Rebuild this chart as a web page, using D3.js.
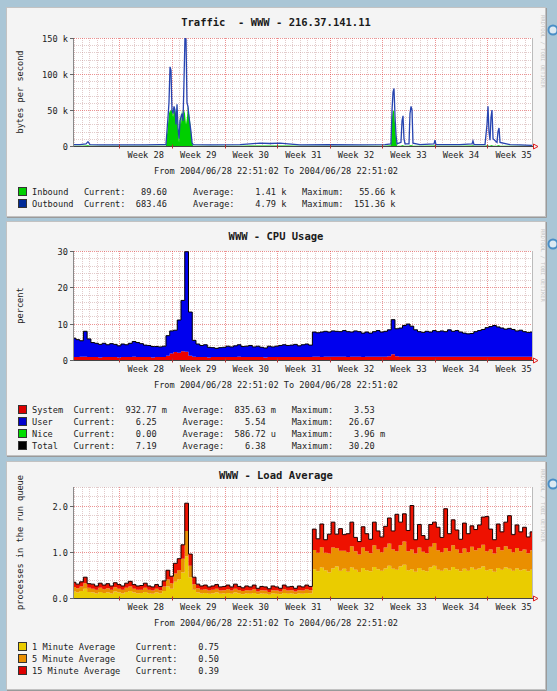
<!DOCTYPE html>
<html>
<head>
<meta charset="utf-8">
<script src="https://d3js.org/d3.v7.min.js"></script>
<style>
body { margin: 0; background: #aac6d6; }
svg { display: block; }
text { white-space: pre; }
</style>
</head>
<body>
<script>
// time span shared by the three graphs
var startTime = new Date(2004, 5, 28, 22, 51, 2);
var endTime = new Date(2004, 7, 28, 22, 51, 2);
var weekNumbers = [28, 29, 30, 31, 32, 33, 34, 35];
var fromText = 'From 2004/06/28 22:51:02 To 2004/06/28 22:51:02';

// traffic, days after start / kbytes per second
var trafficDays = [0, 0.8, 1.6, 1.86, 2.13, 3.46, 5.46, 7.46, 9.46, 11.45, 12.25, 12.52, 12.65, 12.79, 12.92,
  13.05, 13.19, 13.32, 13.45, 13.59, 13.72, 13.85, 13.99, 14.12, 14.25, 14.38, 14.52, 14.65, 14.78, 14.92,
  15.05, 15.18, 15.32, 15.45, 15.58, 15.72, 15.85, 18.11, 22.11, 23.44, 24.77, 26.1, 27.44, 28.5, 30.1,
  34.1, 38.09, 41.42, 42.22, 42.36, 42.49, 42.62, 42.76, 42.89, 43.02, 43.55, 43.69, 43.82, 43.95, 44.09,
  44.62, 44.75, 44.89, 45.02, 45.15, 46.08, 47.95, 48.08, 48.21, 51.41, 53.01, 53.14, 53.28, 54.74, 55.01,
  55.14, 55.27, 55.41, 55.54, 55.67, 55.81, 56.34, 56.47, 56.61, 56.74, 58.07, 59.4, 61.0];
var inboundK = [0.5, 0.5, 0.6, 1, 0.5, 0.4, 0.4, 0.4, 0.4, 0.5, 0.5, 30, 45, 50, 48,
  52, 40, 55, 50, 35, 55, 20, 5, 45, 30, 50, 40, 50, 45, 30,
  40, 55.7, 45, 35, 20, 5, 0.5, 0.4, 0.5, 0.6, 0.8, 0.8, 0.7, 0.6, 0.4,
  0.5, 0.4, 0.5, 1, 40, 50, 48, 30, 10, 0.5, 0.5, 1, 1, 0.5, 0.5,
  0.5, 1, 1, 1, 0.5, 0.5, 0.6, 1, 0.5, 0.5, 0.6, 1, 0.5, 0.5, 1,
  1, 0.5, 0.5, 1, 1, 0.5, 0.5, 1, 1, 0.5, 0.5, 0.4, 0.3];
var outboundK = [2, 2, 3, 6, 2, 1.5, 1.5, 1.5, 1.5, 2, 2, 40, 60, 110, 105,
  50, 45, 55, 50, 30, 58, 25, 10, 35, 40, 45, 35, 90, 151, 148,
  60, 55, 40, 30, 20, 5, 2, 1.5, 2, 3, 4, 3.5, 4, 3, 1.5,
  2, 1.5, 2, 3, 50, 75, 80, 40, 15, 3, 5, 35, 42, 10, 3,
  3, 45, 55, 50, 4, 2, 3, 8, 2, 2, 3, 7, 2, 2, 30,
  55, 20, 8, 40, 50, 10, 5, 20, 25, 5, 2, 1.5, 1];
var inboundStats = ['89.60', '', '1.41', 'k', '55.66', 'k'];
var outboundStats = ['683.46', '', '4.79', 'k', '151.36', 'k'];

// cpu, one sample every half day
var sampleStep = 0.5;
var cpuSystem = [0.8, 0.8, 0.9, 0.9, 0.8, 0.8, 0.8, 0.7, 0.8, 0.8,
  0.8, 0.8, 0.7, 0.8, 0.8, 0.8, 0.9, 0.8, 0.8, 0.8,
  0.8, 0.7, 0.8, 0.8, 0.8, 1.2, 1.8, 2.2, 2.0, 2.4,
  2.3, 1.2, 0.9, 0.8, 0.8, 0.8, 0.7, 0.8, 0.8, 0.8,
  0.8, 0.8, 0.8, 0.8, 0.9, 0.8, 0.8, 0.8, 0.8, 0.8,
  0.8, 0.7, 0.8, 0.8, 0.8, 0.8, 0.8, 0.8, 0.8, 0.8,
  0.8, 0.8, 0.8, 0.8, 0.9, 0.9, 0.8, 0.9, 0.9, 0.9,
  0.9, 0.9, 0.9, 0.8, 0.9, 0.9, 0.9, 0.8, 0.9, 0.9,
  0.9, 0.9, 0.9, 0.9, 1.0, 1.6, 1.0, 0.9, 0.9, 0.9,
  0.9, 0.9, 0.9, 0.9, 0.9, 0.9, 0.9, 0.9, 0.9, 0.9,
  0.9, 0.9, 0.9, 0.9, 0.9, 0.9, 0.9, 0.9, 0.9, 0.9,
  0.9, 0.9, 0.9, 0.9, 0.9, 0.9, 0.9, 0.9, 0.9, 0.9,
  0.9, 0.9, 0.9];
var cpuUser = [5.2, 4.8, 4.4, 7.0, 5.0, 4.0, 3.8, 3.6, 3.8, 3.4,
  3.7, 3.5, 3.2, 3.6, 3.4, 3.8, 4.2, 4.0, 3.7, 3.3,
  3.2, 3.0, 2.9, 2.8, 3.0, 5.5, 6.2, 6.0, 9.0, 14.0,
  27.5, 12.0, 4.5, 3.6, 3.2, 3.4, 2.8, 2.6, 2.4, 2.6,
  2.7, 3.0, 2.8, 3.1, 3.3, 2.9, 3.0, 3.2, 2.8, 3.0,
  2.7, 2.6, 3.0, 2.8, 3.0, 3.2, 3.4, 3.2, 3.3, 3.5,
  3.1, 3.4, 3.6, 3.3, 6.8, 6.6, 6.9, 7.0, 6.8, 7.1,
  7.0, 6.9, 7.2, 7.0, 6.8, 7.1, 6.9, 6.6, 6.8, 6.5,
  6.9, 7.2, 6.8, 7.0, 7.3, 9.5, 7.6, 7.9, 8.6, 9.0,
  8.4, 7.4, 6.9, 6.7, 7.0, 6.8, 7.2, 6.9, 7.1, 6.9,
  7.4, 7.0, 7.2, 6.8, 6.5, 6.3, 6.4, 6.9, 7.2, 7.5,
  8.0, 8.3, 8.6, 8.2, 7.9, 7.6, 7.8, 7.5, 7.1, 7.3,
  6.9, 6.7, 6.8];
var systemStats = ['932.77', 'm', '835.63', 'm', '3.53', ''];
var userStats = ['6.25', '', '5.54', '', '26.67', ''];
var niceStats = ['0.00', '', '586.72', 'u', '3.96', 'm'];
var totalStats = ['7.19', '', '6.38', '', '30.20', ''];

// load average, stacked parts, one sample every half day
var load1 = [0.14, 0.12, 0.15, 0.2, 0.13, 0.12, 0.1, 0.13, 0.11, 0.12,
  0.1, 0.14, 0.12, 0.1, 0.13, 0.15, 0.12, 0.1, 0.11, 0.13,
  0.1, 0.09, 0.12, 0.1, 0.15, 0.25, 0.2, 0.35, 0.4, 0.55,
  0.9, 0.45, 0.18, 0.12, 0.1, 0.11, 0.09, 0.1, 0.12, 0.09,
  0.1, 0.11, 0.09, 0.12, 0.1, 0.08, 0.1, 0.09, 0.11, 0.08,
  0.1, 0.09, 0.07, 0.1, 0.09, 0.08, 0.11, 0.09, 0.1, 0.08,
  0.1, 0.09, 0.11, 0.1,
  0.62, 0.58, 0.66, 0.6, 0.55, 0.64, 0.68, 0.59, 0.63, 0.57,
  0.66, 0.61, 0.56, 0.65, 0.6, 0.58, 0.67, 0.62, 0.59, 0.64,
  0.7, 0.63, 0.61, 0.68, 0.72, 0.6, 0.62, 0.57, 0.65, 0.6,
  0.58, 0.66, 0.7, 0.61, 0.59, 0.64, 0.6, 0.67, 0.62, 0.58,
  0.63, 0.59, 0.66, 0.61, 0.64, 0.68, 0.6, 0.62, 0.57, 0.65,
  0.61, 0.66, 0.63, 0.59, 0.64, 0.6, 0.62, 0.58, 0.61];
var load5 = [0.1, 0.09, 0.1, 0.12, 0.09, 0.08, 0.08, 0.09, 0.08, 0.09,
  0.08, 0.09, 0.08, 0.08, 0.09, 0.1, 0.08, 0.08, 0.07, 0.09,
  0.08, 0.07, 0.08, 0.07, 0.1, 0.15, 0.12, 0.18, 0.2, 0.3,
  0.55, 0.25, 0.12, 0.09, 0.08, 0.08, 0.07, 0.08, 0.08, 0.07,
  0.07, 0.08, 0.07, 0.08, 0.07, 0.07, 0.07, 0.07, 0.08, 0.06,
  0.07, 0.07, 0.06, 0.07, 0.07, 0.06, 0.08, 0.07, 0.07, 0.06,
  0.07, 0.07, 0.08, 0.07,
  0.42, 0.4, 0.44, 0.38, 0.41, 0.45, 0.4, 0.43, 0.39, 0.42,
  0.46, 0.4, 0.38, 0.44, 0.41, 0.39, 0.47, 0.43, 0.4, 0.45,
  0.48, 0.42, 0.4, 0.46, 0.5, 0.41, 0.43, 0.39, 0.44, 0.4,
  0.39, 0.45, 0.49, 0.42, 0.4, 0.44, 0.41, 0.47, 0.43, 0.39,
  0.44, 0.4, 0.45, 0.42, 0.44, 0.47, 0.41, 0.43, 0.39, 0.45,
  0.42, 0.46, 0.43, 0.4, 0.44, 0.41, 0.43, 0.39, 0.42];
var load15 = [0.1, 0.09, 0.1, 0.13, 0.09, 0.1, 0.08, 0.1, 0.09, 0.1,
  0.08, 0.1, 0.09, 0.08, 0.1, 0.11, 0.09, 0.08, 0.09, 0.1,
  0.08, 0.08, 0.09, 0.08, 0.12, 0.2, 0.15, 0.22, 0.25, 0.3,
  0.6, 0.25, 0.15, 0.09, 0.08, 0.09, 0.08, 0.08, 0.09, 0.08,
  0.08, 0.09, 0.08, 0.1, 0.08, 0.07, 0.09, 0.08, 0.09, 0.07,
  0.08, 0.08, 0.07, 0.09, 0.08, 0.07, 0.09, 0.08, 0.08, 0.07,
  0.09, 0.08, 0.09, 0.08,
  0.45, 0.3, 0.5, 0.28, 0.42, 0.55, 0.3, 0.48, 0.35, 0.4,
  0.52, 0.3, 0.28, 0.45, 0.38, 0.3, 0.5, 0.4, 0.33, 0.46,
  0.55, 0.4, 0.8, 0.5, 0.6, 0.45, 0.95, 0.3, 0.5, 0.35,
  0.3, 0.48, 0.45, 0.5, 0.32, 0.85, 0.38, 0.55, 0.42, 0.3,
  0.55, 0.4, 0.45, 0.45, 0.5, 0.6, 0.75, 0.44, 0.3, 0.5,
  0.4, 0.52, 0.72, 0.38, 0.5, 0.42, 0.48, 0.35, 0.4];
var load1Stats = ['0.75', ''];
var load5Stats = ['0.50', ''];
var load15Stats = ['0.39', ''];

var mono = '"DejaVu Sans Mono", "Liberation Mono", monospace';
var fs = 8.65;

var svg = d3.select('body').append('svg')
    .attr('width', 557)
    .attr('height', 691);

var x = d3.scaleTime().domain([startTime, endTime]).range([74, 532]);

function dayDate(d) { return new Date(+startTime + d * 864e5); }

function legendRow(label, width, names, stats) {
    var s = label.padEnd(width);
    names.forEach(function(n, k) {
        if (k > 0) s += '   ';
        s += n + ':' + stats[2 * k].padStart(8) + ' ' + (stats[2 * k + 1] || ' ');
    });
    return s;
}

function panel(p, drawData) {
    var g = svg.append('g');
    g.append('rect')
        .attr('x', 6.5).attr('y', p.top + 0.5)
        .attr('width', 539).attr('height', p.bottom - p.top)
        .attr('fill', '#f4f4f4').attr('stroke', '#c2c2c2');
    g.append('path')
        .attr('d', 'M7,' + (p.bottom + 1.5) + 'H546.5V' + (p.top + 1))
        .attr('fill', 'none').attr('stroke', '#9a9a9a');

    // little icon at the right edge
    g.append('circle').attr('cx', 553).attr('cy', p.top + 23).attr('r', 4.5)
        .attr('fill', '#dce9f2').attr('stroke', '#4a8ec6').attr('stroke-width', 2);

    g.append('text')
        .attr('x', 276).attr('y', p.titleY)
        .attr('text-anchor', 'middle')
        .style('font-family', mono).style('font-size', '10.5px').style('font-weight', 'bold')
        .attr('fill', '#1a1a1a')
        .text(p.title);

    g.append('text')
        .attr('transform', 'translate(541,' + (p.top + 8) + ') rotate(90)')
        .style('font-family', mono).style('font-size', '5.5px')
        .attr('fill', '#c4c4c4')
        .text('RRDTOOL / TOBI OETIKER');

    var y = d3.scaleLinear().domain(p.domain).range([p.plotBottom, p.plotTop]);
    var x0 = x.range()[0], x1 = x.range()[1];

    g.append('rect')
        .attr('x', x0).attr('y', p.plotTop)
        .attr('width', x1 - x0).attr('height', p.plotBottom - p.plotTop)
        .attr('fill', '#ffffff');

    // grid behind the data
    var grid = g.append('g');
    var mondays = d3.timeMonday.range(startTime, endTime);
    d3.timeDay.range(d3.timeDay.ceil(startTime), endTime).forEach(function(d) {
        var isMajor = d3.timeMonday.floor(d).getTime() === d.getTime();
        var px = Math.round(x(d)) + 0.5;
        grid.append('line')
            .attr('x1', px).attr('x2', px).attr('y1', p.plotTop).attr('y2', p.plotBottom)
            .attr('stroke', isMajor ? 'rgba(220,40,40,0.5)' : 'rgba(190,140,140,0.45)')
            .attr('stroke-dasharray', '1,1');
    });
    var steps = Math.round((p.domain[1] - p.domain[0]) / p.minor);
    d3.range(steps + 1).forEach(function(k) {
        var v = p.domain[0] + k * p.minor;
        var r = v / p.major;
        var isMajor = Math.abs(r - Math.round(r)) < 1e-6;
        var py = Math.round(y(v)) + 0.5;
        grid.append('line')
            .attr('x1', x0).attr('x2', x1).attr('y1', py).attr('y2', py)
            .attr('stroke', isMajor ? 'rgba(220,40,40,0.5)' : 'rgba(190,140,140,0.45)')
            .attr('stroke-dasharray', '1,1');
    });
    grid.append('line')
        .attr('x1', x1 + 0.5).attr('x2', x1 + 0.5).attr('y1', p.plotTop).attr('y2', p.plotBottom)
        .attr('stroke', '#bbbbbb');

    var clipId = 'clip' + p.id;
    svg.append('clipPath').attr('id', clipId).append('rect')
        .attr('x', x0).attr('y', p.plotTop)
        .attr('width', x1 - x0).attr('height', p.plotBottom - p.plotTop);
    var dg = g.append('g').attr('clip-path', 'url(#' + clipId + ')');
    drawData(dg, y);

    // axes
    var yb = Math.round(p.plotBottom) + 0.5;
    g.append('line').attr('x1', x0 - 0.5).attr('x2', x0 - 0.5).attr('y1', p.plotTop).attr('y2', p.plotBottom)
        .attr('stroke', '#8a8a8a');
    g.append('line').attr('x1', x0 - 2).attr('x2', x1 + 2).attr('y1', yb).attr('y2', yb)
        .attr('stroke', '#444444');
    g.append('path')
        .attr('d', 'M' + (x1 + 1.5) + ',' + (yb - 2.5) + 'L' + (x1 + 6) + ',' + yb + 'L' + (x1 + 1.5) + ',' + (yb + 2.5) + 'Z')
        .attr('fill', 'none').attr('stroke', '#e02020');
    mondays.forEach(function(d) {
        var px = Math.round(x(d)) + 0.5;
        g.append('line').attr('x1', px).attr('x2', px).attr('y1', yb - 2).attr('y2', yb + 2)
            .attr('stroke', '#b03030');
    });

    // y labels
    p.majors.forEach(function(v) {
        var py = Math.round(y(v)) + 0.5;
        g.append('line').attr('x1', x0 - 4).attr('x2', x0).attr('y1', py).attr('y2', py)
            .attr('stroke', '#666');
        g.append('text')
            .attr('x', x0 - 6).attr('y', py + 3)
            .attr('text-anchor', 'end')
            .style('font-family', mono).style('font-size', fs + 'px')
            .attr('fill', '#222')
            .text(p.fmt(v));
    });

    g.append('text')
        .attr('transform', 'translate(23,' + ((p.plotTop + p.plotBottom) / 2) + ') rotate(-90)')
        .attr('text-anchor', 'middle')
        .style('font-family', mono).style('font-size', fs + 'px')
        .attr('fill', '#222')
        .text(p.ylabel);

    // week labels centred in each week
    mondays.forEach(function(d, i) {
        var mid = new Date(+d + 3.5 * 864e5);
        g.append('text')
            .attr('x', x(mid)).attr('y', p.plotBottom + 12)
            .attr('text-anchor', 'middle')
            .style('font-family', mono).style('font-size', fs + 'px')
            .attr('fill', '#222')
            .text('Week ' + weekNumbers[i]);
    });

    g.append('text')
        .attr('x', 276).attr('y', p.plotBottom + 28)
        .attr('text-anchor', 'middle')
        .style('font-family', mono).style('font-size', fs + 'px')
        .attr('fill', '#222')
        .text(fromText);

    // legend
    p.legend.forEach(function(l, i) {
        var ly = p.legendY + i * 12;
        g.append('rect').attr('x', 18.5).attr('y', ly - 4.5).attr('width', 8).attr('height', 8)
            .attr('fill', l.color).attr('stroke', '#333');
        g.append('text')
            .attr('x', 32).attr('y', ly + 3)
            .style('font-family', mono).style('font-size', fs + 'px')
            .attr('fill', '#222')
            .text(legendRow(l.label, p.labelWidth, p.statNames, l.stats));
    });
}

// ---- traffic
var traffic = trafficDays.map(function(d, i) {
    return { t: dayDate(d), inb: inboundK[i], out: outboundK[i] };
});
panel({
    id: 1, top: 7, bottom: 216, titleY: 26, title: 'Traffic  - WWW - 216.37.141.11',
    plotTop: 38, plotBottom: 146, domain: [0, 150], major: 50, minor: 10, majors: [0, 50, 100, 150],
    fmt: function(v) { return v === 0 ? '0' : v + ' k'; },
    ylabel: 'bytes per second', legendY: 192, labelWidth: 10,
    statNames: ['Current', 'Average', 'Maximum'],
    legend: [
        { label: 'Inbound', color: '#00cf00', stats: inboundStats },
        { label: 'Outbound', color: '#002a97', stats: outboundStats }
    ]
}, function(g, y) {
    g.append('path').datum(traffic)
        .attr('d', d3.area().x(function(d) { return x(d.t); }).y0(y(0)).y1(function(d) { return y(d.inb); }))
        .attr('fill', '#00cf00');
    g.append('path').datum(traffic)
        .attr('d', d3.line().x(function(d) { return x(d.t); }).y(function(d) { return y(d.out); }))
        .attr('fill', 'none').attr('stroke', '#2744b0').attr('stroke-width', 1.3);
});

// ---- cpu
var cpu = cpuUser.map(function(u, i) {
    return { t: dayDate(i * sampleStep), sys: cpuSystem[i], user: u };
});
var cpuStack = d3.stack().keys(['sys', 'user'])(cpu);
var cpuColors = { sys: '#ee0000', user: '#0000ee' };
panel({
    id: 2, top: 221, bottom: 455, titleY: 240, title: 'WWW - CPU Usage',
    plotTop: 251, plotBottom: 360, domain: [0, 30], major: 10, minor: 2, majors: [0, 10, 20, 30],
    fmt: function(v) { return String(v); },
    ylabel: 'percent', legendY: 410, labelWidth: 8,
    statNames: ['Current', 'Average', 'Maximum'],
    legend: [
        { label: 'System', color: '#dd0000', stats: systemStats },
        { label: 'User', color: '#0000cc', stats: userStats },
        { label: 'Nice', color: '#00dd00', stats: niceStats },
        { label: 'Total', color: '#000000', stats: totalStats }
    ]
}, function(g, y) {
    var area = d3.area().curve(d3.curveStep)
        .x(function(d) { return x(d.data.t); })
        .y0(function(d) { return y(d[0]); })
        .y1(function(d) { return y(d[1]); });
    cpuStack.forEach(function(s) {
        g.append('path').datum(s).attr('d', area).attr('fill', cpuColors[s.key]);
    });
    g.append('path').datum(cpu)
        .attr('d', d3.line().curve(d3.curveStep)
            .x(function(d) { return x(d.t); })
            .y(function(d) { return y(d.sys + d.user); }))
        .attr('fill', 'none').attr('stroke', '#000').attr('stroke-width', 1);
});

// ---- load average
var load = load1.map(function(v, i) {
    return { t: dayDate(i * sampleStep), l1: v, l5: load5[i], l15: load15[i] };
});
var loadStack = d3.stack().keys(['l1', 'l5', 'l15'])(load);
var loadColors = { l1: '#eacc00', l5: '#ea8f00', l15: '#ee1100' };
panel({
    id: 3, top: 461, bottom: 689, titleY: 479, title: 'WWW - Load Average',
    plotTop: 487, plotBottom: 598, domain: [0, 2.4], major: 1, minor: 0.2, majors: [0, 1, 2],
    fmt: d3.format('.1f'),
    ylabel: 'processes in the run queue', legendY: 647, labelWidth: 20,
    statNames: ['Current'],
    legend: [
        { label: '1 Minute Average', color: '#eacc00', stats: load1Stats },
        { label: '5 Minute Average', color: '#ea8f00', stats: load5Stats },
        { label: '15 Minute Average', color: '#dd0000', stats: load15Stats }
    ]
}, function(g, y) {
    var area = d3.area().curve(d3.curveStep)
        .x(function(d) { return x(d.data.t); })
        .y0(function(d) { return y(d[0]); })
        .y1(function(d) { return y(d[1]); });
    loadStack.forEach(function(s) {
        g.append('path').datum(s).attr('d', area).attr('fill', loadColors[s.key]);
    });
    g.append('path').datum(load)
        .attr('d', d3.line().curve(d3.curveStep)
            .x(function(d) { return x(d.t); })
            .y(function(d) { return y(d.l1 + d.l5 + d.l15); }))
        .attr('fill', 'none').attr('stroke', '#1a0000').attr('stroke-width', 1);
});
</script>
</body>
</html>
